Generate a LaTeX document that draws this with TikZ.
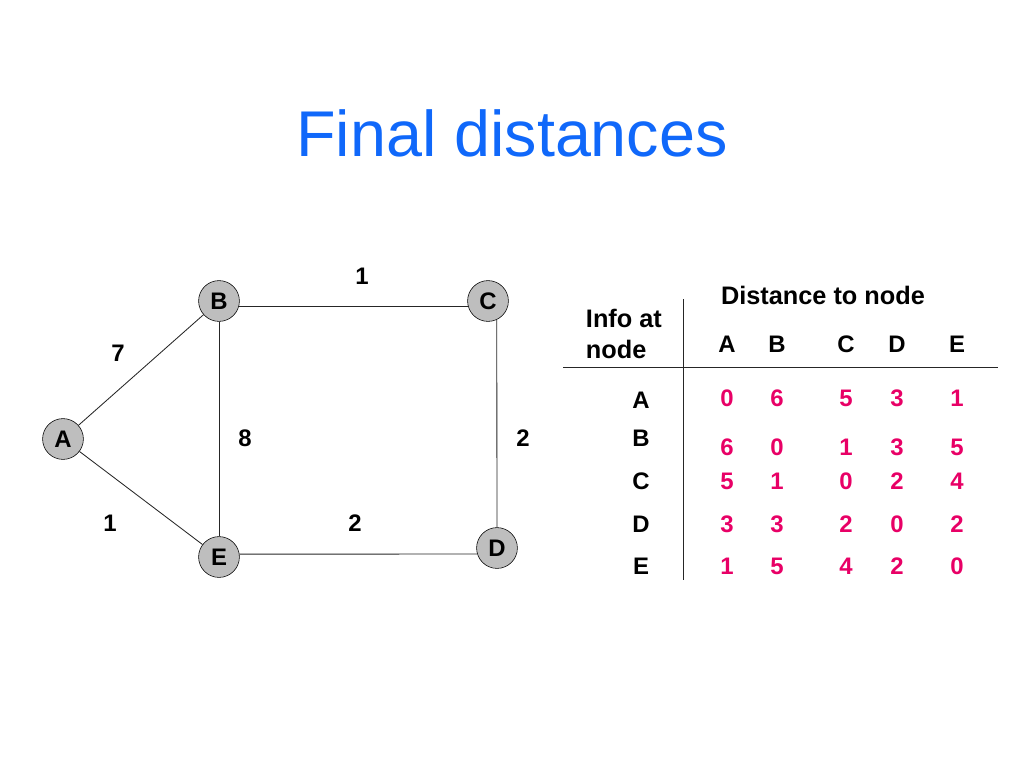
\documentclass[tikz,border=0pt]{standalone}
\usepackage{fontspec}
\setmainfont{Liberation Sans}
\usepackage{tikz}
\usetikzlibrary{positioning}
\definecolor{titleblue}{RGB}{16,104,250}
\definecolor{distpink}{RGB}{232,0,102}
\definecolor{nodegray}{RGB}{190,190,190}

\begin{document}
\begin{tikzpicture}[x=0.025cm, y=-0.025cm,
    vertex/.style={circle, draw, fill=nodegray, minimum size=1.02cm, inner sep=0pt, font=\bfseries\fontsize{17}{20}\selectfont},
    weight/.style={font=\bfseries\fontsize{17}{20}\selectfont},
    head/.style={font=\bfseries\fontsize{18}{22}\selectfont},
    dist/.style={text=distpink, font=\bfseries\fontsize{17}{20}\selectfont},
    edge/.style={draw=black!85, line width=0.6pt}]
    \useasboundingbox (0,0) rectangle (1024,768);
    \node[text=titleblue, font=\fontsize{46}{54}\selectfont] (title) at (512,133) {Final distances};

    \node[vertex] (A) at (63,439) {A};
    \node[vertex] (B) at (219,301) {B};
    \node[vertex] (C) at (488,301) {C};
    \node[vertex] (D) at (497,548) {D};
    \node[vertex] (E) at (219,557) {E};
    \draw[edge] (A) -- (B);
    \draw[edge] (A) -- (E);
    \draw[edge] (B) -- (E);
    \draw[edge] (B.-15) -- (C.195);
    \draw[edge] (C.-65) -- (D.90);
    \draw[edge] (E.8) -- (D.197);
    \node[weight] (wAB) at (118,353) {7};
    \node[weight] (wAE) at (110,523) {1};
    \node[weight] (wBC) at (362,276) {1};
    \node[weight] (wBE) at (245,438) {8};
    \node[weight] (wCD) at (523,438) {2};
    \node[weight] (wED) at (355,523) {2};

    \node[head] (dto) at (823,295) {Distance to node};
    \node[head, anchor=west, align=left] (info) at (581,334) {Info at\\node};
    \draw[black!85, line width=0.6pt] (563,367) -- (998,367);
    \draw[black!85, line width=0.6pt] (683,299) -- (683,580);
    \foreach \c/\x in {A/727,B/777,C/846,D/897,E/957}
        \node[weight] (col-\c) at (\x,344) {\c};
    \foreach \r/\y in {A/400,B/438,C/481,D/524,E/566}
        \node[weight] (row-\r) at (641,\y) {\r};
    \foreach \r/\y/\a/\b/\c/\d/\e in {A/398/0/6/5/3/1, B/447/6/0/1/3/5, C/481/5/1/0/2/4, D/524/3/3/2/0/2, E/566/1/5/4/2/0} {
        \node[dist] (v-\r-A) at (727,\y) {\a};
        \node[dist] (v-\r-B) at (777,\y) {\b};
        \node[dist] (v-\r-C) at (846,\y) {\c};
        \node[dist] (v-\r-D) at (897,\y) {\d};
        \node[dist] (v-\r-E) at (957,\y) {\e};
    }
\end{tikzpicture}
\end{document}
